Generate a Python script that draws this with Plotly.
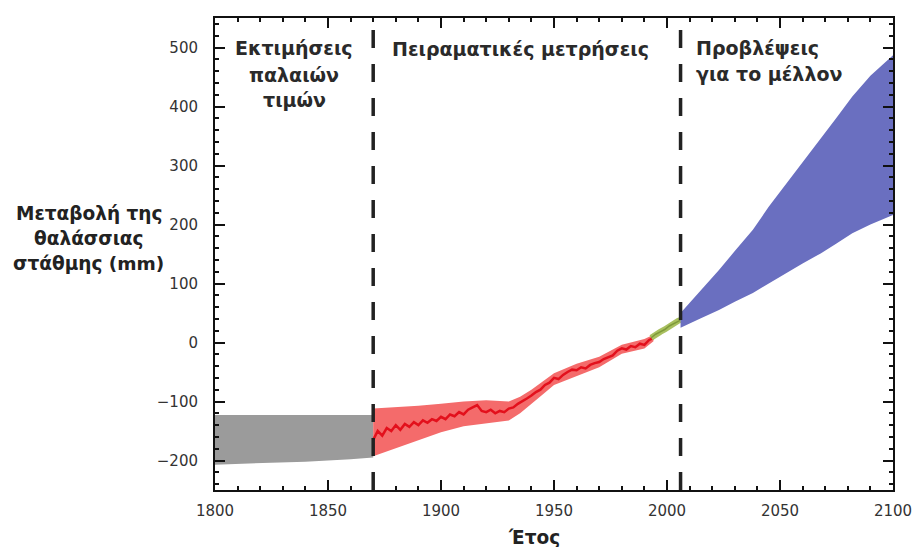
import plotly.graph_objects as go

# ---- data ----
past_years = [1800, 1820, 1840, 1860, 1870]
past_upper = [-123, -123, -123, -123, -123]
past_lower = [-207, -205, -202, -198, -195]

obs_years = [1870, 1872, 1874, 1876, 1878, 1880, 1882, 1884, 1886, 1888, 1890, 1892,
             1894, 1896, 1898, 1900, 1902, 1904, 1906, 1908, 1910, 1912, 1914, 1916,
             1918, 1920, 1922, 1924, 1926, 1928, 1930, 1932, 1934, 1936, 1938, 1940,
             1942, 1944, 1946, 1948, 1950, 1952, 1954, 1956, 1958, 1960, 1962, 1964,
             1966, 1968, 1970, 1972, 1974, 1976, 1978, 1980, 1982, 1984, 1986, 1988,
             1990, 1992, 1994]
obs_values = [-165, -150, -158, -145, -150, -140, -148, -138, -143, -135, -140, -132,
              -136, -130, -133, -126, -130, -122, -125, -118, -122, -114, -110, -106,
              -116, -118, -114, -120, -116, -118, -112, -110, -104, -100, -95, -90,
              -84, -80, -72, -68, -60, -62, -55, -50, -46, -47, -42, -44,
              -38, -35, -33, -28, -25, -22, -14, -10, -12, -6, -8, -2,
              -4, 4, 8]

band_years = [1870, 1875, 1880, 1890, 1900, 1910, 1920, 1930, 1935, 1940, 1945, 1950,
              1960, 1970, 1980, 1990, 1994]
band_upper = [-112, -111, -110, -107, -104, -100, -98, -100, -92, -80, -66, -52,
              -36, -24, -4, 6, 13]
band_lower = [-193, -186, -180, -166, -152, -142, -137, -132, -120, -104, -88, -72,
              -57, -42, -19, -10, 2]

sat_years = [1993, 1995, 1997, 1999, 2001, 2003, 2005, 2006]
sat_values = [8, 14, 18, 22, 28, 32, 37, 38]

proj_years = [2006, 2015, 2023, 2030, 2038, 2045, 2053, 2060, 2068, 2075, 2082, 2090, 2100]
proj_upper = [50, 88, 123, 155, 191, 230, 270, 305, 344, 381, 417, 452, 487]
proj_lower = [25, 41, 55, 69, 84, 100, 118, 134, 151, 168, 185, 200, 216]

divider_years = [1870, 2006]
x_ticks = [1800, 1850, 1900, 1950, 2000, 2050, 2100]
y_ticks = [-200, -100, 0, 100, 200, 300, 400, 500]

FONT = "DejaVu Sans, Verdana, sans-serif"

fig = go.Figure()

fig.add_trace(go.Scatter(
    x=past_years + past_years[::-1], y=past_upper + past_lower[::-1],
    fill="toself", fillcolor="#9b9b9b", line=dict(width=0), mode="lines",
    hoverinfo="skip", showlegend=False))

fig.add_trace(go.Scatter(
    x=band_years + band_years[::-1], y=band_upper + band_lower[::-1],
    fill="toself", fillcolor="#f46b6b", line=dict(width=0), mode="lines",
    hoverinfo="skip", showlegend=False))

fig.add_trace(go.Scatter(
    x=obs_years, y=obs_values, mode="lines",
    line=dict(color="#e3101c", width=2.5), showlegend=False))

fig.add_trace(go.Scatter(
    x=sat_years, y=sat_values, mode="lines",
    line=dict(color="#a9c060", width=6), showlegend=False))
fig.add_trace(go.Scatter(
    x=sat_years, y=sat_values, mode="lines",
    line=dict(color="#7f9a3a", width=1.5), showlegend=False))

fig.add_trace(go.Scatter(
    x=proj_years + proj_years[::-1], y=proj_upper + proj_lower[::-1],
    fill="toself", fillcolor="#6a6fc0", line=dict(width=0), mode="lines",
    hoverinfo="skip", showlegend=False))

for yr in divider_years:
    fig.add_shape(type="line", xref="x", yref="paper", x0=yr, x1=yr, y0=0, y1=1,
                  line=dict(color="#222222", width=3.5, dash="18px,16px"))

ann_font = dict(family=FONT, size=19, color="#2a2a2a", weight="bold")
annots = [
    ("Εκτιμήσεις", 1835, 48, "center"),
    ("παλαιών", 1835, 75, "center"),
    ("τιμών", 1835, 100, "center"),
    ("Πειραματικές μετρήσεις", 1935, 49, "center"),
    ("Προβλέψεις", 2012, 48, "left"),
    ("για το μέλλον", 2012, 74, "left"),
]
top_px, bot_px = 18, 490
for txt, xv, ypx, al in annots:
    fig.add_annotation(x=xv, xref="x", y=(bot_px - ypx) / (bot_px - top_px), yref="paper",
                       text=txt, showarrow=False, xanchor=al, yanchor="middle",
                       font=ann_font)

title_font = dict(family=FONT, size=18.5, color="#222222", weight="bold")
for txt, ypx in [("Μεταβολή της", 213), ("θαλάσσιας", 238), ("στάθμης (mm)", 263)]:
    fig.add_annotation(x=(89 - 215) / (893 - 215), xref="paper",
                       y=(bot_px - ypx) / (bot_px - top_px), yref="paper",
                       text=txt, showarrow=False, xanchor="center", yanchor="middle",
                       font=title_font)
fig.add_annotation(x=(534 - 215) / (893 - 215), xref="paper",
                   y=(bot_px - 537) / (bot_px - top_px), yref="paper",
                   text="Έτος", showarrow=False, xanchor="center", yanchor="middle",
                   font=title_font)

tick_font = dict(family=FONT, size=15, color="#333333")
fig.update_xaxes(range=[1800, 2100], tickmode="array", tickvals=x_ticks,
                 ticks="inside", ticklen=10, tickwidth=2, tickcolor="#111111",
                 showline=True, linewidth=2, linecolor="#111111", mirror="allticks",
                 showgrid=False, zeroline=False, tickfont=tick_font,
                 ticklabelstandoff=6,
                 minor=dict(dtick=10, tick0=1800, ticks="inside", ticklen=4,
                            tickwidth=2, tickcolor="#111111", showgrid=False))
fig.update_yaxes(range=[-250, 550], tickmode="array", tickvals=y_ticks,
                 ticks="inside", ticklen=10, tickwidth=2, tickcolor="#111111",
                 showline=True, linewidth=2, linecolor="#111111", mirror="allticks",
                 showgrid=False, zeroline=False, tickfont=tick_font,
                 ticklabelstandoff=12,
                 minor=dict(dtick=20, tick0=0, ticks="inside", ticklen=4,
                            tickwidth=2, tickcolor="#111111", showgrid=False))

fig.update_layout(template="none", width=916, height=547,
                  margin=dict(l=215, r=23, t=18, b=57, autoexpand=False),
                  plot_bgcolor="white", paper_bgcolor="white", showlegend=False)

fig.write_html("out.html", config={"displayModeBar": False},
               post_script="document.body.style.margin='0';document.body.style.overflow='hidden';")
